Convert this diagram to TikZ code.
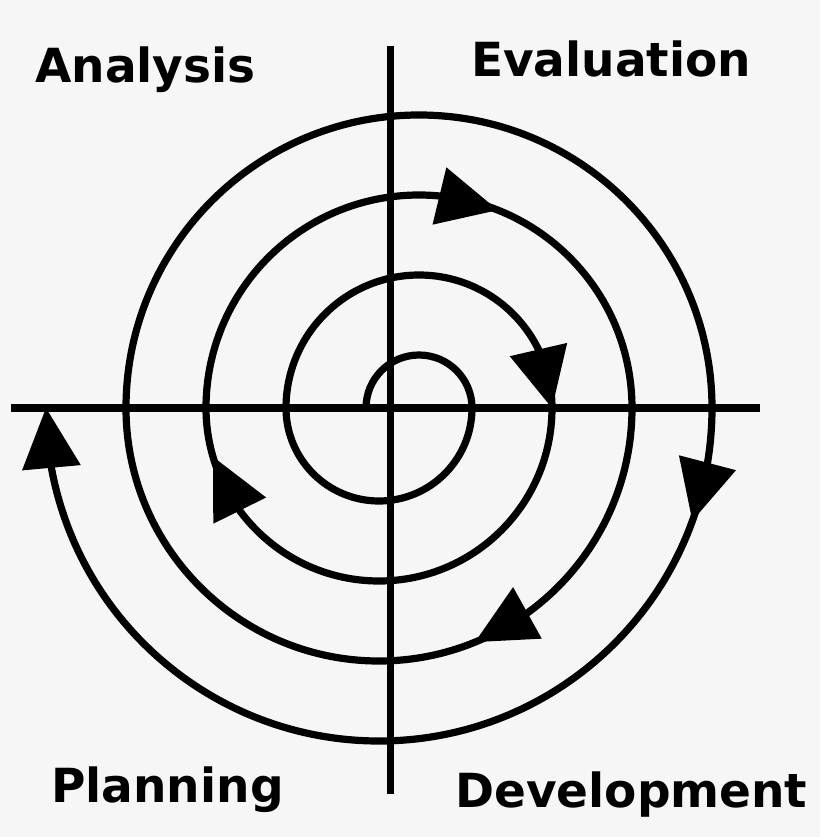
\documentclass[tikz,border=0pt]{standalone}
\usepackage{fontspec}
\newfontfamily\labfont{DejaVu Sans}
\usetikzlibrary{calc}
\definecolor{bgc}{HTML}{F6F6F6}
\begin{document}
\begin{tikzpicture}[x=1pt,y=-1pt,
  spiral/.style={line width=7.2pt},
  axisline/.style={line width=7.5pt},
  quadlabel/.style={font=\labfont\bfseries\fontsize{47}{56}\selectfont, inner sep=0pt, anchor=base west},
  headfill/.style={fill=black}]
\path[use as bounding box, fill=bgc] (0,0) rectangle (820,837);
% axes
\coordinate (vtop) at (390.5,46);
\coordinate (vbot) at (390.5,794);
\coordinate (hleft) at (11,408);
\coordinate (hright) at (760,408);
\draw[axisline] (vtop) -- (vbot);
\draw[axisline] (hleft) -- (hright);
% spiral of semicircles
\coordinate (start) at (366,408);
\draw[spiral] (start)
  arc[start angle=180, end angle=360, radius=53]
  arc[start angle=0, end angle=180, radius=93]
  arc[start angle=180, end angle=360, radius=133]
  arc[start angle=0, end angle=180, radius=173]
  arc[start angle=180, end angle=360, radius=213]
  arc[start angle=0, end angle=180, radius=253]
  arc[start angle=180, end angle=360, radius=293]
  arc[start angle=0, end angle=170, radius=333];
% arrowheads
\foreach \cx/\r/\t in {419/133/360, 419/213/291.7, 379/333/19.8, 379/253/67.7, 379/173/163.6, 379/333/180}{
  \pgfmathsetmacro\b{\t-2*asin(30/\r)}
  \coordinate (tip) at ($(\cx,408)+(\t:\r)$);
  \coordinate (bm) at ($(\cx,408)+(\b:\r)$);
  \fill[headfill] ($(bm)!29.5pt!90:(tip)$) -- (tip) -- ($(bm)!29.5pt!-90:(tip)$) -- cycle;
}
% labels
\node[quadlabel] (analysis) at (35,83) {Analysis};
\node[quadlabel] (evaluation) at (471,77) {Evaluation};
\node[quadlabel] (planning) at (51,802) {Planning};
\node[quadlabel] (development) at (455,807) {Development};
\end{tikzpicture}
\end{document}
